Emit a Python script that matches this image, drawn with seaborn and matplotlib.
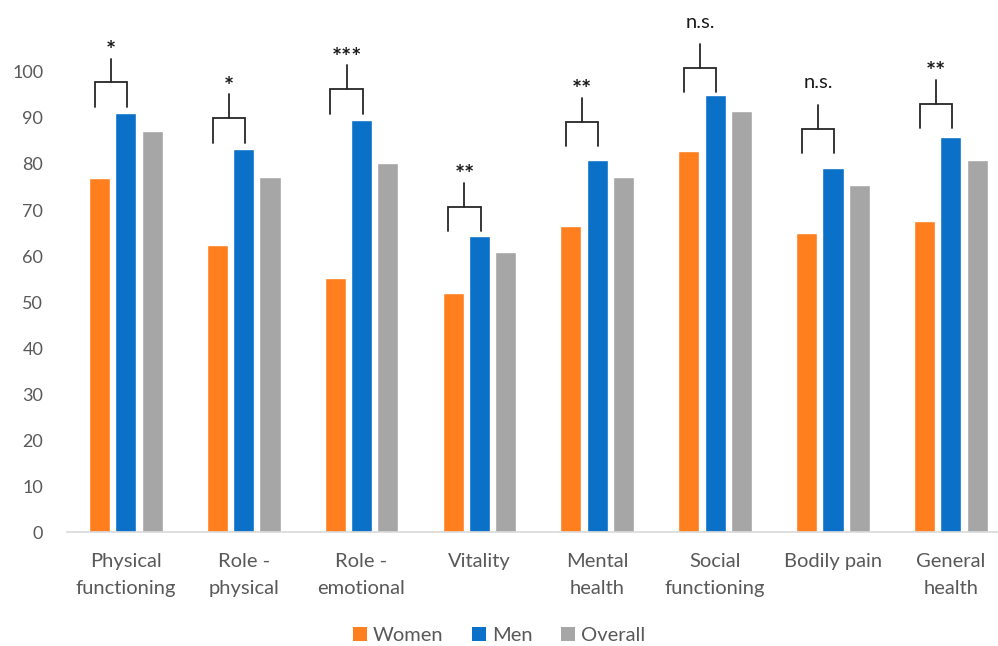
import pandas as pd
import matplotlib.pyplot as plt
import seaborn as sns
from matplotlib.patches import Patch

categories = ['Physical\nfunctioning', 'Role -\nphysical', 'Role -\nemotional', 'Vitality',
              'Mental\nhealth', 'Social\nfunctioning', 'Bodily pain', 'General\nhealth']
women = [77.0, 62.4, 55.2, 52.0, 66.5, 82.8, 65.0, 67.6]
men = [91.1, 83.3, 89.6, 64.3, 80.9, 95.0, 79.1, 85.9]
overall = [87.2, 77.2, 80.2, 60.9, 77.2, 91.5, 75.4, 80.9]

# significance brackets: label and height of the bracket feet
sig_labels = ['*', '*', '***', '**', '**', 'n.s.', 'n.s.', '**']
sig_base = [92.4, 84.6, 90.9, 65.4, 83.9, 95.6, 82.4, 87.8]

groups = ['Women', 'Men', 'Overall']
colors = ['#FF7F1F', '#0A70C8', '#A6A6A6']
TEXT = '#595959'

df = pd.DataFrame({
    'domain': categories * 3,
    'group': sum([[g] * len(categories) for g in groups], []),
    'score': women + men + overall,
})

sns.set_theme(style='white')
plt.rcParams['font.family'] = ['Lato', 'DejaVu Sans']

fig = plt.figure(figsize=(9.98, 6.46), dpi=100)
ax = fig.add_axes([0.067, 0.176, 0.933, 0.784])

sns.barplot(data=df, x='domain', y='score', hue='group', palette=colors,
            width=0.67, gap=0.2, saturation=1, legend=False, ax=ax)

ax.set_ylim(0, 110)
ax.set_xlim(-0.5, 7.4)
ax.set_yticks(range(0, 101, 10))
ax.set_xlabel('')
ax.set_ylabel('')
ax.tick_params(axis='y', length=0, pad=17, labelsize=13, labelcolor=TEXT)
ax.tick_params(axis='x', length=0, pad=15, labelsize=14.5, labelcolor=TEXT)
for lbl in ax.get_xticklabels():
    lbl.set_linespacing(1.7)
for s in ['top', 'right', 'left']:
    ax.spines[s].set_visible(False)
ax.spines['bottom'].set_color('#D9D9D9')
ax.spines['bottom'].set_linewidth(1.2)

# brackets between women and men bars
w_bars = ax.containers[0]
m_bars = ax.containers[1]
foot = 5.3
stem = 5.2
for i, (lab, base) in enumerate(zip(sig_labels, sig_base)):
    wb, mb = w_bars[i], m_bars[i]
    x0 = wb.get_x() + wb.get_width() / 2 - 0.04
    x1 = mb.get_x() + mb.get_width() / 2 + 0.01
    xm = (x0 + x1) / 2
    top = base + foot
    ax.plot([x0, x0, x1, x1], [base, top, top, base], color='#262626', lw=1.3,
            clip_on=False, solid_joinstyle='miter')
    ax.plot([xm, xm], [top, top + stem], color='#262626', lw=1.3, clip_on=False)
    if '*' in lab:
        ax.text(xm, top + stem + 1.6, lab, ha='center', va='center', fontsize=17,
                fontweight='bold', color='#1a1a1a', clip_on=False)
    else:
        ax.text(xm, top + stem + 3.5, lab, ha='center', va='baseline', fontsize=14.5,
                color='#1a1a1a', clip_on=False)

handles = [Patch(facecolor=c, edgecolor='none', label=g) for g, c in zip(groups, colors)]
leg = fig.legend(handles=handles, loc='center', bbox_to_anchor=(0.5, 0.016), ncol=3,
                 frameon=False, fontsize=14.5, handlelength=0.7, handleheight=0.7,
                 handletextpad=0.3, columnspacing=1.4)
for t in leg.get_texts():
    t.set_color(TEXT)

fig.savefig('out.png', dpi=100)
